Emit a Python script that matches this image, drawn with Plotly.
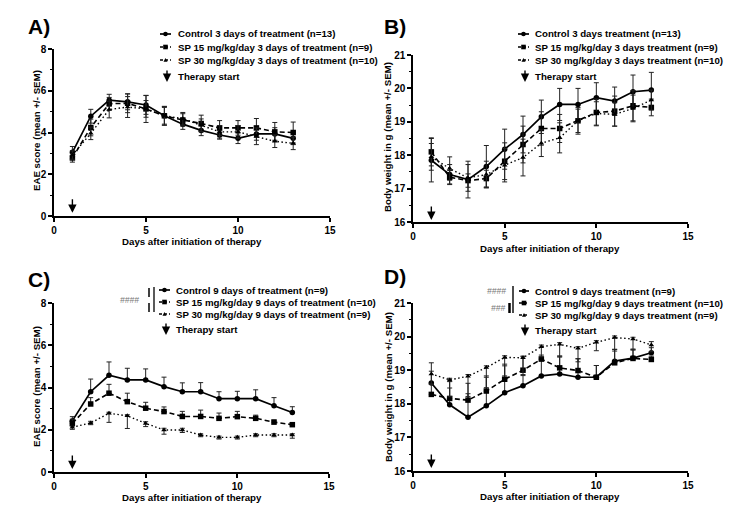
import plotly.graph_objects as go

# ---------------- data ----------------
days = [1, 2, 3, 4, 5, 6, 7, 8, 9, 10, 11, 12, 13]

# Panel A: EAE score, 3 days of treatment
a_ctrl = [3.05, 4.78, 5.55, 5.47, 5.32, 4.8, 4.4, 4.1, 3.88, 3.72, 3.93, 3.93, 3.72]
a_ctrl_err = [0.28, 0.33, 0.28, 0.38, 0.45, 0.45, 0.25, 0.25, 0.2, 0.25, 0.3, 0.3, 0.3]
a_sp15 = [2.78, 4.24, 5.38, 5.4, 5.13, 4.8, 4.6, 4.43, 4.22, 4.22, 4.22, 4.03, 4.0]
a_sp15_err = [0.2, 0.4, 0.3, 0.45, 0.65, 0.45, 0.3, 0.4, 0.35, 0.35, 0.45, 0.45, 0.5]
a_sp30 = [2.92, 3.96, 5.1, 5.22, 5.13, 4.8, 4.66, 4.35, 4.03, 4.03, 3.82, 3.58, 3.48]
a_sp30_err = [0.2, 0.3, 0.4, 0.5, 0.4, 0.4, 0.3, 0.3, 0.3, 0.3, 0.4, 0.3, 0.3]

# Panel B: body weight, 3 days of treatment
b_ctrl = [17.85, 17.42, 17.27, 17.66, 18.18, 18.62, 19.15, 19.52, 19.52, 19.72, 19.62, 19.9, 19.95]
b_ctrl_err = [0.65, 0.3, 0.55, 0.63, 0.6, 0.55, 0.5, 0.48, 0.48, 0.45, 0.42, 0.5, 0.53]
b_sp15 = [18.1, 17.34, 17.24, 17.3, 17.82, 18.32, 18.8, 18.8, 19.03, 19.28, 19.32, 19.48, 19.43]
b_sp15_err = [0.42, 0.2, 0.2, 0.25, 0.55, 0.55, 0.5, 0.42, 0.35, 0.4, 0.45, 0.45, 0.25]
b_sp30 = [17.95, 17.6, 17.32, 17.42, 17.7, 17.93, 18.36, 18.52, 19.03, 19.25, 19.22, 19.4, 19.65]
b_sp30_err = [0.4, 0.35, 0.4, 0.4, 0.5, 0.55, 0.4, 0.45, 0.4, 0.35, 0.35, 0.4, 0.3]

# Panel C: EAE score, 9 days of treatment
c_ctrl = [2.42, 3.8, 4.58, 4.36, 4.36, 4.04, 3.8, 3.8, 3.47, 3.47, 3.47, 3.14, 2.82]
c_ctrl_up = [0.2, 0.6, 0.63, 0.55, 0.52, 0.45, 0.42, 0.43, 0.33, 0.35, 0.42, 0.38, 0.27]
c_sp15 = [2.3, 3.22, 3.73, 3.33, 3.02, 2.86, 2.63, 2.63, 2.54, 2.62, 2.54, 2.36, 2.24]
c_sp15_up = [0.2, 0.3, 0.42, 0.4, 0.28, 0.22, 0.24, 0.3, 0.25, 0.25, 0.15, 0.1, 0.08]
c_sp30 = [2.12, 2.32, 2.78, 2.66, 2.3, 1.99, 1.99, 1.75, 1.64, 1.64, 1.75, 1.75, 1.75]
c_sp30_up = [0.05, 0.08, 0.05, 0.05, 0.08, 0.08, 0.08, 0.06, 0.06, 0.06, 0.06, 0.06, 0.06]
c_sp30_down = [0.1, 0.08, 0.43, 0.6, 0.15, 0.2, 0.12, 0.08, 0.08, 0.08, 0.08, 0.08, 0.15]

# Panel D: body weight, 9 days of treatment
d_ctrl = [18.62, 17.97, 17.6, 17.94, 18.33, 18.54, 18.83, 18.89, 18.79, 18.79, 19.27, 19.36, 19.52]
d_ctrl_up = [0.35, 0.5, 0.7, 0.85, 0.8, 0.3, 0.5, 0.5, 0.55, 0.35, 0.35, 0.25, 0.15]
d_sp15 = [18.28, 18.16, 18.11, 18.38, 18.73, 19.0, 19.33, 19.07, 18.99, 18.79, 19.22, 19.35, 19.32]
d_sp15_up = [0.3, 0.5, 0.5, 0.45, 0.45, 0.4, 0.12, 0.35, 0.35, 0.35, 0.4, 0.25, 0.1]
d_sp30 = [18.89, 18.71, 18.82, 19.08, 19.38, 19.37, 19.7, 19.77, 19.65, 19.83, 19.97, 19.93, 19.75]
d_sp30_up = [0.33, 0.05, 0.05, 0.05, 0.05, 0.05, 0.05, 0.05, 0.05, 0.05, 0.05, 0.05, 0.1]
d_sp30_down = [0.3, 0.5, 0.6, 0.6, 0.55, 0.5, 0.3, 0.35, 0.4, 0.25, 0.4, 0.3, 0.2]

legend_a = ["Control 3 days of treatment (n=13)",
            "SP 15 mg/kg/day 3 days of treatment (n=9)",
            "SP 30 mg/kg/day 3 days of treatment (n=10)"]
legend_b = ["Control 3 days treatment (n=13)",
            "SP 15 mg/kg/day 3 days treatment (n=9)",
            "SP 30 mg/kg/day 3 days treatment (n=10)"]
legend_c = ["Control 9 days of treatment (n=9)",
            "SP 15 mg/kg/day 9 days of treatment (n=10)",
            "SP 30 mg/kg/day 9 days of treatment (n=9)"]
legend_d = ["Control 9 days treatment (n=9)",
            "SP 15 mg/kg/day 9 days treatment (n=10)",
            "SP 30 mg/kg/day 9 days treatment (n=9)"]

x_ticks = [0, 5, 10, 15]
eae_ticks = [0, 2, 4, 6, 8]
bw_ticks = [16, 17, 18, 19, 20, 21]

W, H = 753, 520
FONT = "Arial, Liberation Sans, sans-serif"


def X(px):
    return px / W


def Y(py):
    return 1 - py / H


styles = [
    dict(dash="solid", width=1.7, symbol="circle", msize=5.5),
    dict(dash="5px,3px", width=1.6, symbol="square", msize=5.5),
    dict(dash="1.5px,2.5px", width=1.4, symbol="triangle-up", msize=5),
]

fig = go.Figure()


def add_series(xa, ya, series):
    for st, (vals, up, down) in zip(styles, series):
        fig.add_trace(go.Scatter(
            x=days, y=vals, mode="lines+markers", xaxis=xa, yaxis=ya,
            showlegend=False,
            line=dict(color="black", width=st["width"], dash=st["dash"]),
            marker=dict(symbol=st["symbol"], size=st["msize"], color="black"),
            error_y=dict(type="data", symmetric=False, array=up, arrayminus=down,
                         color="#222", thickness=1, width=2.5),
        ))


add_series("x", "y", [(a_ctrl, a_ctrl_err, a_ctrl_err), (a_sp15, a_sp15_err, a_sp15_err),
                      (a_sp30, a_sp30_err, a_sp30_err)])
add_series("x2", "y2", [(b_ctrl, b_ctrl_err, b_ctrl_err), (b_sp15, b_sp15_err, b_sp15_err),
                        (b_sp30, b_sp30_err, b_sp30_err)])
zeros = [0] * len(days)
add_series("x3", "y3", [(c_ctrl, c_ctrl_up, zeros), (c_sp15, c_sp15_up, zeros),
                        (c_sp30, c_sp30_up, c_sp30_down)])
add_series("x4", "y4", [(d_ctrl, d_ctrl_up, zeros), (d_sp15, d_sp15_up, zeros),
                        (d_sp30, d_sp30_up, d_sp30_down)])

tickfont = dict(family=FONT, size=10, color="black", weight="bold")


def xaxis(dom, anchor):
    return dict(domain=dom, anchor=anchor, range=[0, 15], tickvals=x_ticks,
                showline=True, linecolor="black", linewidth=1.5, ticks="outside",
                ticklen=4, tickwidth=1.5, tickcolor="black", showgrid=False,
                zeroline=False, tickfont=tickfont, fixedrange=True)


def yaxis(dom, anchor, rng, tv, minor_d):
    return dict(domain=dom, anchor=anchor, range=rng, tickvals=tv,
                showline=True, linecolor="black", linewidth=1.5, ticks="outside",
                ticklen=4, tickwidth=1.5, tickcolor="black", showgrid=False,
                zeroline=False, tickfont=tickfont,
                minor=dict(dtick=minor_d, ticks="outside", ticklen=2.5, tickwidth=1,
                           tickcolor="black", showgrid=False),
                fixedrange=True)


fig.update_layout(
    width=W, height=H, margin=dict(l=0, r=0, t=0, b=0, autoexpand=False),
    paper_bgcolor="white", plot_bgcolor="white",
    font=dict(family=FONT, color="black"),
    showlegend=False,
    xaxis=xaxis([X(54), X(330)], "y"),
    yaxis=yaxis([Y(216), Y(49)], "x", [0, 8], eae_ticks, 1),
    xaxis2=xaxis([X(413), X(688)], "y2"),
    yaxis2=yaxis([Y(222), Y(55)], "x2", [16, 21], bw_ticks, 0.5),
    xaxis3=xaxis([X(54), X(329)], "y3"),
    yaxis3=yaxis([Y(472), Y(303)], "x3", [0, 8], eae_ticks, 1),
    xaxis4=xaxis([X(413), X(688)], "y4"),
    yaxis4=yaxis([Y(471), Y(303)], "x4", [16, 21], bw_ticks, 0.5),
)

ann = []
shapes = []
bold = dict(family=FONT, size=9.7, color="black", weight="bold")

# panel letters
for lab, px, py in [("A)", 26, 26), ("B)", 382, 26), ("C)", 26, 279), ("D)", 382, 276)]:
    ann.append(dict(text=lab, x=X(px), y=Y(py), xref="paper", yref="paper",
                    xanchor="left", yanchor="middle", showarrow=False,
                    font=dict(family=FONT, size=21, color="black", weight="bold")))

# axis titles
for cx, cy in [(192, 241), (550, 248), (192, 497), (550, 496)]:
    ann.append(dict(text="Days after initiation of therapy", x=X(cx), y=Y(cy),
                    xref="paper", yref="paper", showarrow=False, font=bold,
                    xanchor="center", yanchor="middle"))
for cx, cy, t in [(36, 131, "EAE score (mean +/- SEM)"),
                  (388, 137, "Body weight in g (mean +/- SEM)"),
                  (36, 387, "EAE score (mean +/- SEM)"),
                  (388, 387, "Body weight in g (mean +/- SEM)")]:
    ann.append(dict(text=t, x=X(cx), y=Y(cy), xref="paper", yref="paper",
                    showarrow=False, font=bold, textangle=-90,
                    xanchor="center", yanchor="middle"))

# therapy start arrows in plots (day 1)
for xr, yr, ytip in [("x", "y", 0.15), ("x2", "y2", 16.06), ("x3", "y3", 0.14), ("x4", "y4", 16.09)]:
    ann.append(dict(text="", x=1, y=ytip, xref=xr, yref=yr, ax=0, ay=-15,
                    showarrow=True, arrowhead=2, arrowsize=1.2, arrowwidth=1.4,
                    arrowcolor="black"))

# custom legends
legends = [
    (legend_a, 160, 171, 176, [34, 47, 60], 167, 76),
    (legend_b, 518, 529, 533, [34, 47, 60], 525, 76),
    (legend_c, 159, 170, 174, [290, 302, 314], 166, 329),
    (legend_d, 519, 529, 533, [291, 303, 315], 525, 330),
]
for labels, lx0, lx1, tx, rows, arx, ary in legends:
    for st, lab, ry in zip(styles, labels, rows):
        dash = st["dash"]
        shapes.append(dict(type="line", xref="paper", yref="paper",
                           x0=X(lx0), x1=X(lx1), y0=Y(ry), y1=Y(ry),
                           line=dict(color="black", width=st["width"],
                                     dash="solid" if dash == "solid" else ("3px,2px" if "5px" in dash else "1px,2px"))))
        cx = (lx0 + lx1) / 2
        r = 2.3
        if st["symbol"] == "circle":
            shapes.append(dict(type="circle", xref="paper", yref="paper",
                               x0=X(cx - r), x1=X(cx + r), y0=Y(ry + r), y1=Y(ry - r),
                               fillcolor="black", line=dict(width=0)))
        elif st["symbol"] == "square":
            shapes.append(dict(type="rect", xref="paper", yref="paper",
                               x0=X(cx - r), x1=X(cx + r), y0=Y(ry + r), y1=Y(ry - r),
                               fillcolor="black", line=dict(width=0)))
        else:
            path = "M {} {} L {} {} L {} {} Z".format(X(cx - 2), Y(ry + 1.8), X(cx + 2), Y(ry + 1.8),
                                                      X(cx), Y(ry - 2))
            shapes.append(dict(type="path", xref="paper", yref="paper", path=path,
                               fillcolor="black", line=dict(width=0)))
        ann.append(dict(text=lab, x=X(tx), y=Y(ry), xref="paper", yref="paper",
                        xanchor="left", yanchor="middle", showarrow=False, font=bold))
    # therapy start legend arrow
    ann.append(dict(text="", x=X(arx), y=Y(ary + 6), xref="paper", yref="paper",
                    ax=0, ay=-13, showarrow=True, arrowhead=2, arrowsize=1.2,
                    arrowwidth=1.4, arrowcolor="black"))
    ann.append(dict(text="Therapy start", x=X(tx), y=Y(ary), xref="paper", yref="paper",
                    xanchor="left", yanchor="middle", showarrow=False, font=bold))

# significance markers
hashfont = dict(family=FONT, size=8.5, color="#777", style="italic")
ann.append(dict(text="####", x=X(141), y=Y(300), xref="paper", yref="paper",
                xanchor="right", yanchor="middle", showarrow=False, font=hashfont))
for x0, y0, y1, w in [(149, 288, 297, 1.5), (149, 303, 312, 1.5), (154, 287, 312, 1.3)]:
    shapes.append(dict(type="line", xref="paper", yref="paper", x0=X(x0), x1=X(x0),
                       y0=Y(y0), y1=Y(y1), line=dict(color="black", width=w)))
ann.append(dict(text="####", x=X(508), y=Y(291), xref="paper", yref="paper",
                xanchor="right", yanchor="middle", showarrow=False, font=hashfont))
ann.append(dict(text="###", x=X(507), y=Y(308), xref="paper", yref="paper",
                xanchor="right", yanchor="middle", showarrow=False, font=hashfont))
for x0, y0, y1, w in [(509.5, 303, 313, 2.5), (513, 286, 313, 1.4)]:
    shapes.append(dict(type="line", xref="paper", yref="paper", x0=X(x0), x1=X(x0),
                       y0=Y(y0), y1=Y(y1), line=dict(color="black", width=w)))

fig.update_layout(annotations=ann, shapes=shapes)
fig.write_html("out.html", config=dict(displayModeBar=False),
               post_script="document.body.style.margin='0';document.body.style.padding='0';")
